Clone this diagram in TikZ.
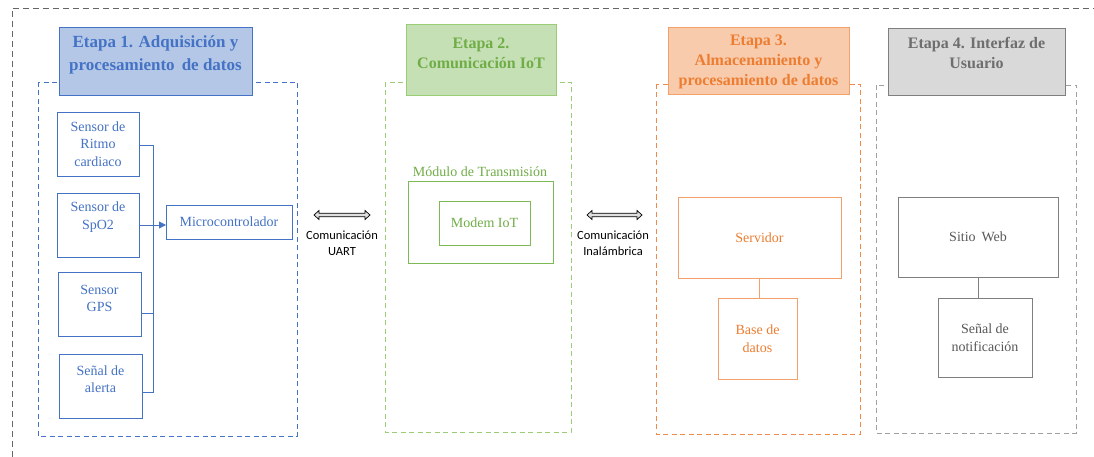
\documentclass[tikz,border=0pt]{standalone}
\usepackage{fontspec}
\setmainfont{Liberation Serif}
\newfontfamily\calib{Carlito}
\usetikzlibrary{arrows.meta}
\definecolor{bluT}{HTML}{4472C4}
\definecolor{bluF}{HTML}{B4C7E7}
\definecolor{grnT}{HTML}{70AD47}
\definecolor{grnL}{HTML}{7DBA55}
\definecolor{grnD}{HTML}{9ACD76}
\definecolor{grnF}{HTML}{C5E0B4}
\definecolor{orgT}{HTML}{ED7D31}
\definecolor{orgL}{HTML}{F4A06A}
\definecolor{orgD}{HTML}{F08A4B}
\definecolor{orgF}{HTML}{F8CBAD}
\definecolor{gryT}{HTML}{6E6E6E}
\definecolor{gryL}{HTML}{7F7F7F}
\definecolor{gryD}{HTML}{A0A0A0}
\definecolor{gryF}{HTML}{D9D9D9}
\definecolor{frameC}{HTML}{666666}
\begin{document}
\begin{tikzpicture}[x=1pt,y=-1pt,
  box/.style={draw, line width=0.9pt, inner sep=0pt, outer sep=0pt, align=center,
     font=\fontsize{14}{17.5}\selectfont},
  bbox/.style={box, draw=bluT, text=bluT},
  gbox/.style={box, draw=grnL, text=grnT},
  obox/.style={box, draw=orgL, text=orgT},
  kbox/.style={box, draw=gryL, text=gryT!80!black},
  hdr/.style={draw, line width=0.9pt, inner sep=0pt, outer sep=0pt},
  htxt/.style={align=center, inner sep=0pt, font=\bfseries\fontsize{16}{20}\selectfont},
  lbl/.style={align=center, inner sep=0pt, font=\fontsize{14}{17.5}\selectfont},
  comm/.style={align=center, inner sep=0pt, font=\calib\fontsize{12.5}{16}\selectfont},
  stagebox/.style={line width=0.9pt, dash pattern=on 5pt off 3.5pt},
  bl/.style={draw=bluT, line width=0.9pt},
  dbl/.style={draw=black, line width=0.7pt, fill=gray!25, line join=miter}
]
\useasboundingbox (0,0) rectangle (1094,457);
\fill[white] (0,0) rectangle (1094,457);
% outer frame
\draw[frameC, line width=0.9pt, dash pattern=on 6pt off 4pt] (12,457) -- (12,8) -- (1094,8);

% stage containers
\draw[stagebox, draw=bluT] (38,82) rectangle (297,436);
\draw[stagebox, draw=grnD] (385,82) rectangle (571,432);
\draw[stagebox, draw=orgD] (656,84) rectangle (860,434);
\draw[stagebox, draw=gryD] (876,85) rectangle (1076,433);

% headers
\node[hdr, draw=bluT, fill=bluF, minimum width=193pt, minimum height=68pt] (h1) at (155.5,61) {};
\node[htxt, text=bluT, font=\bfseries\fontsize{17}{23}\selectfont] at ([yshift=6pt]h1.center)
  {Etapa 1. Adquisición y\\procesamiento\, de datos};
\node[hdr, draw=grnD, fill=grnF, minimum width=150pt, minimum height=71pt] (h2) at (481,59.5) {};
\node[htxt, text=grnT] at ([yshift=6.5pt]h2.center) {Etapa 2.\\Comunicación IoT};
\node[hdr, draw=orgL, fill=orgF, minimum width=181pt, minimum height=67pt] (h3) at (758.5,60.5) {};
\node[htxt, text=orgT] at ([yshift=-1.5pt]h3.center) {Etapa 3.\\Almacenamiento y\\procesamiento de datos};
\node[hdr, draw=gryL, fill=gryF, minimum width=177pt, minimum height=67pt] (h4) at (976.5,61.5) {};
\node[htxt, text=gryT] at ([yshift=8.5pt]h4.center) {Etapa 4. Interfaz de\\Usuario};

% stage 1
\node[bbox, minimum width=82pt, minimum height=64pt] (ritmo) at (98,144) {Sensor de\\Ritmo\\cardiaco};
\node[bbox, minimum width=82pt, minimum height=64pt,
  label={[lbl, text=bluT, yshift=8pt]center:{Sensor de\\SpO2}}] (spo2) at (98,225) {};
\node[bbox, minimum width=83pt, minimum height=64pt,
  label={[lbl, text=bluT, yshift=5.5pt]center:{Sensor\\GPS}}] (gps) at (99.5,304) {};
\node[bbox, minimum width=83pt, minimum height=64pt,
  label={[lbl, text=bluT, yshift=7pt]center:{Señal de\\alerta}}] (alerta) at (100.5,386) {};
\node[bbox, minimum width=126pt, minimum height=34pt] (micro) at (229,222) {Microcontrolador};

\coordinate (bt) at (153,145);
\coordinate (bb) at (153,392);
\coordinate (gpsout) at (141,313);
\draw[bl] (ritmo.east |- bt) -- (bt) -- (bb) -- (alerta.east |- bb);
\draw[bl] (gpsout) -- (gpsout -| bt);
\draw[bl, -{Triangle[length=7pt, width=7pt]}] (spo2.east) -- (spo2.east -| micro.west);

% UART arrow
\coordinate (ua) at (314,215);
\coordinate (ub) at (370,215);
\draw[dbl] (ua) -- ++(5,-4.5) -- ++(0,2.7) -- ++(46,0) -- ++(0,-2.7) -- (ub)
  -- ++(-5,4.5) -- ++(0,-2.7) -- ++(-46,0) -- ++(0,2.7) -- cycle;
\node[comm] at (342,243) {Comunicación\\UART};

% stage 2
\node[lbl, text=grnT] (modlbl) at (480,172) {Módulo de Transmisión};
\node[gbox, minimum width=145pt, minimum height=82pt] (modulo) at (480.5,222) {};
\node[gbox, minimum width=91pt, minimum height=44pt] (modem) at (484.5,223) {Modem IoT};

% wireless arrow
\coordinate (wa) at (587,215);
\coordinate (wb) at (642,215);
\draw[dbl] (wa) -- ++(5,-4.5) -- ++(0,2.7) -- ++(45,0) -- ++(0,-2.7) -- (wb)
  -- ++(-5,4.5) -- ++(0,-2.7) -- ++(-45,0) -- ++(0,2.7) -- cycle;
\node[comm] at (613,243) {Comunicación\\Inalámbrica};

% stage 3
\node[obox, minimum width=163pt, minimum height=81pt] (serv) at (759.5,237.5) {Servidor};
\node[obox, minimum width=79pt, minimum height=81pt] (bd) at (757.5,338.5) {Base de\\datos};
\draw[orgL, line width=0.9pt] (serv.south) -- (serv.south |- bd.north);

% stage 4
\node[kbox, minimum width=160pt, minimum height=80pt] (web) at (978,237) {Sitio\, Web};
\node[kbox, minimum width=94pt, minimum height=79pt] (notif) at (985,337.5) {Señal de\\notificación};
\draw[gryL, line width=0.9pt] (web.south) -- (web.south |- notif.north);
\end{tikzpicture}
\end{document}
